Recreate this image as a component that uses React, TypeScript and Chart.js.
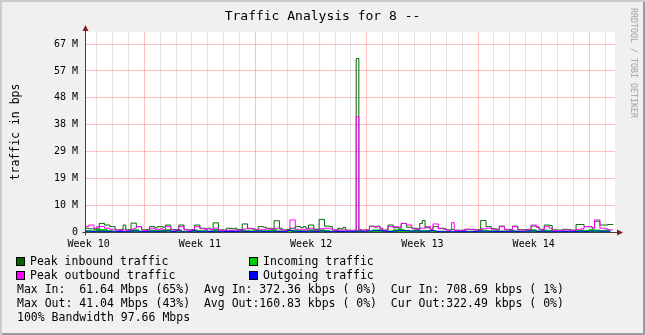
import React, { useEffect, useRef } from "react";
import { Chart, registerables } from "chart.js";

Chart.register(...registerables);

// ---- time axis (hours, week boundaries at multiples of 168) ----
const X_MIN_H = -88;
const X_MAX_H = 710.8;
const PEAK_START_H = -88;
const PEAK_STEP_H = 4;
const AVG_START_H = -88;
const AVG_STEP_H = 8;
const DAY_TICKS_H = [-72, -48, -24, 0, 24, 48, 72, 96, 120, 144, 168, 192, 216, 240, 264, 288, 312, 336, 360, 384, 408, 432, 456, 480, 504, 528, 552, 576, 600, 624, 648, 672, 696];
const WEEK_LABEL_POS_H = [-84, 84, 252, 420, 588];
const WEEK_LABELS = ["Week 10", "Week 11", "Week 12", "Week 13", "Week 14"];

// ---- value axis (units of 10^6 bps) ----
const Y_MAX = 74.5;
const Y_TICK_VALUES = [0, 10, 20, 30, 40, 50, 60, 70];
const Y_TICK_LABELS = ["0", "10 M", "19 M", "29 M", "38 M", "48 M", "57 M", "67 M"];

// ---- series (10^6 bps) ----
const PEAK_IN = [
  1.4, 1.4, 1.2, 1.2, 1.0, 1.2, 3.2, 3.2, 2.6, 2.6,
  2.0, 2.0, 0.8, 0.8, 0.9, 2.6, 0.8, 0.8, 3.3, 3.3,
  2.0, 2.0, 0.8, 0.8, 0.9, 2.0, 2.0, 1.6, 2.0, 2.0,
  1.8, 2.6, 2.6, 1.0, 0.9, 0.8, 2.6, 2.6, 1.0, 0.8,
  0.8, 0.9, 2.6, 2.6, 1.4, 1.4, 1.2, 1.4, 1.0, 3.4,
  3.4, 0.8, 0.8, 0.7, 1.4, 1.4, 1.2, 1.4, 0.9, 1.0,
  3.0, 3.0, 1.2, 1.2, 1.0, 0.8, 2.0, 2.0, 1.8, 1.4,
  1.4, 1.2, 4.2, 4.2, 1.4, 0.8, 0.8, 0.9, 1.4, 1.4,
  2.0, 2.0, 1.6, 2.0, 1.4, 2.6, 2.6, 1.0, 1.0, 4.7,
  4.7, 2.2, 2.2, 2.0, 0.8, 0.8, 1.4, 1.2, 1.7, 0.7,
  0.7, 0.6, 0.7, 64.6, 0.8, 0.7, 0.8, 0.7, 2.2, 2.2,
  1.8, 2.2, 1.4, 0.7, 0.7, 2.6, 2.6, 1.6, 1.6, 1.4,
  3.2, 3.2, 1.8, 1.8, 1.4, 1.4, 1.2, 3.2, 4.3, 1.6,
  1.6, 1.0, 2.0, 2.0, 1.4, 1.4, 1.2, 0.8, 0.8, 0.9,
  0.7, 0.7, 0.6, 0.7, 1.0, 1.0, 0.9, 1.0, 0.8, 0.8,
  4.3, 4.3, 2.0, 2.0, 1.2, 1.2, 1.0, 2.2, 2.2, 1.0,
  1.0, 0.9, 2.2, 2.2, 0.9, 0.9, 0.8, 0.9, 1.0, 2.2,
  2.2, 1.8, 1.0, 1.0, 2.6, 2.6, 2.4, 0.8, 0.8, 0.7,
  0.7, 1.0, 1.0, 0.9, 0.7, 0.7, 2.8, 2.8, 2.8, 2.0,
  2.0, 2.0, 1.6, 4.0, 4.0, 2.6, 2.6, 2.6, 2.8, 2.8,
];
const PEAK_OUT = [
  2.0, 2.0, 2.6, 2.6, 1.4, 2.0, 2.0, 2.0, 1.4, 1.4,
  1.0, 1.0, 0.6, 0.7, 0.6, 0.8, 0.6, 0.7, 1.0, 1.4,
  2.0, 2.0, 0.7, 0.6, 0.7, 1.4, 1.4, 1.0, 1.0, 1.2,
  1.0, 2.0, 2.0, 0.8, 0.7, 0.6, 2.0, 2.0, 0.8, 0.7,
  0.6, 0.7, 2.0, 2.0, 1.2, 1.2, 1.0, 1.2, 0.8, 1.4,
  1.4, 0.7, 0.6, 0.6, 0.6, 0.7, 0.6, 0.8, 0.6, 0.7,
  1.0, 1.2, 1.4, 1.4, 1.2, 0.7, 1.0, 1.0, 1.0, 1.2,
  1.0, 1.0, 1.4, 1.4, 1.0, 0.7, 0.6, 0.7, 4.5, 4.5,
  1.0, 1.0, 0.8, 1.0, 0.8, 1.4, 1.4, 0.8, 0.7, 1.2,
  1.2, 1.4, 1.4, 1.2, 0.7, 0.6, 0.8, 0.7, 0.8, 0.6,
  0.5, 0.5, 0.6, 43.0, 0.8, 0.6, 0.8, 0.7, 2.0, 2.0,
  2.0, 2.0, 1.2, 0.6, 0.7, 2.0, 2.0, 2.0, 2.0, 1.8,
  3.2, 3.2, 2.6, 2.6, 1.2, 1.2, 1.0, 1.4, 1.4, 2.0,
  2.0, 0.8, 3.0, 3.0, 1.2, 1.2, 1.0, 0.7, 0.6, 3.5,
  0.6, 0.5, 0.6, 0.5, 1.0, 1.0, 1.0, 0.8, 0.7, 0.6,
  1.2, 1.2, 1.4, 1.4, 1.0, 1.0, 0.8, 2.0, 2.0, 0.8,
  0.8, 0.7, 2.0, 2.0, 0.8, 0.7, 0.7, 0.8, 0.8, 2.6,
  2.6, 2.0, 0.8, 0.8, 2.0, 2.0, 1.4, 0.6, 0.6, 0.5,
  0.6, 0.8, 0.8, 0.7, 0.6, 0.5, 1.0, 1.0, 1.2, 2.0,
  2.0, 2.0, 1.4, 4.5, 4.5, 1.4, 1.4, 1.2, 0.8, 0.8,
];
const AVG_IN = [
  0.6, 0.5, 0.4, 1.0, 0.9, 0.6, 0.3, 0.5, 0.3, 0.9,
  0.8, 0.3, 0.5, 0.7, 0.6, 0.7, 0.9, 0.4, 0.8, 0.3,
  0.3, 0.8, 0.5, 0.5, 0.4, 0.9, 0.3, 0.5, 0.6, 0.4,
  0.7, 0.5, 0.4, 0.6, 0.5, 0.5, 1.0, 0.4, 0.3, 0.6,
  0.7, 0.6, 0.5, 0.8, 1.0, 0.8, 0.6, 0.3, 0.5, 0.4,
  0.3, 0.2, 0.6, 0.3, 0.3, 0.7, 0.8, 0.5, 0.4, 0.8,
  0.9, 0.6, 0.5, 0.9, 0.5, 0.6, 0.4, 0.3, 0.3, 0.2,
  0.2, 0.3, 0.4, 0.3, 0.3, 0.9, 0.6, 0.4, 0.6, 0.4,
  0.4, 0.6, 0.4, 0.3, 0.6, 0.8, 0.4, 0.7, 0.6, 0.3,
  0.3, 0.4, 0.3, 0.6, 0.7, 0.6, 0.9, 0.7, 0.6, 0.7,
];
const AVG_OUT = [
  0.4, 0.3, 0.2, 0.3, 0.3, 0.2, 0.1, 0.2, 0.1, 0.3,
  0.4, 0.1, 0.2, 0.3, 0.2, 0.3, 0.4, 0.2, 0.4, 0.1,
  0.1, 0.4, 0.2, 0.3, 0.2, 0.3, 0.1, 0.2, 0.2, 0.2,
  0.3, 0.2, 0.2, 0.3, 0.2, 0.2, 0.3, 0.2, 0.1, 0.6,
  0.3, 0.2, 0.2, 0.3, 0.2, 0.4, 0.3, 0.1, 0.2, 0.2,
  0.1, 0.1, 0.3, 0.1, 0.4, 0.5, 0.5, 0.3, 0.2, 0.4,
  0.6, 0.5, 0.3, 0.4, 0.3, 0.3, 0.5, 0.2, 0.1, 0.1,
  0.1, 0.1, 0.2, 0.1, 0.2, 0.3, 0.3, 0.2, 0.2, 0.2,
  0.2, 0.3, 0.2, 0.1, 0.3, 0.4, 0.2, 0.3, 0.3, 0.1,
  0.1, 0.2, 0.1, 0.2, 0.3, 0.2, 0.4, 0.4, 0.3, 0.3,
];

const TITLE = "Traffic Analysis for 8 --";
const Y_TITLE = "traffic in bps";
const WATERMARK = "RRDTOOL / TOBI OETIKER";
const LEGEND_ITEMS = [
  { label: "Peak inbound traffic", color: "#006600" },
  { label: "Incoming traffic", color: "#00cc00" },
  { label: "Peak outbound traffic", color: "#ff00ff" },
  { label: "Outgoing traffic", color: "#0000ff" },
];
const STAT_LINES = [
  "Max In:  61.64 Mbps (65%)  Avg In: 372.36 kbps ( 0%)  Cur In: 708.69 kbps ( 1%)",
  "Max Out: 41.04 Mbps (43%)  Avg Out:160.83 kbps ( 0%)  Cur Out:322.49 kbps ( 0%)",
  "100% Bandwidth 97.66 Mbps",
];

const MONO = "'DejaVu Sans Mono', monospace";

const toPoints = (arr: number[], start: number, step: number) =>
  arr.map((v, i) => ({ x: start + i * step, y: v }));

const decorPlugin = {
  id: "decor",
  beforeDraw(chart: any) {
    const { ctx, chartArea: a } = chart;
    ctx.save();
    ctx.fillStyle = "#ffffff";
    ctx.fillRect(a.left, a.top, a.right - a.left, a.bottom - a.top);
    ctx.restore();
  },
  afterDraw(chart: any) {
    const { ctx, chartArea: a } = chart;
    const x0 = Math.round(a.left) - 0.5;
    const y0 = Math.round(a.bottom) + 0.5;
    ctx.save();
    ctx.strokeStyle = "#404040";
    ctx.lineWidth = 1;
    ctx.beginPath();
    ctx.moveTo(x0, y0 + 3);
    ctx.lineTo(x0, a.top - 4);
    ctx.moveTo(x0 - 3, y0);
    ctx.lineTo(a.right + 3, y0);
    ctx.stroke();
    ctx.fillStyle = "#7f1f1f";
    ctx.beginPath();
    ctx.moveTo(x0, a.top - 7);
    ctx.lineTo(x0 - 3, a.top - 1);
    ctx.lineTo(x0 + 3, a.top - 1);
    ctx.closePath();
    ctx.fill();
    ctx.beginPath();
    ctx.moveTo(a.right + 8, y0);
    ctx.lineTo(a.right + 2, y0 - 3);
    ctx.lineTo(a.right + 2, y0 + 3);
    ctx.closePath();
    ctx.fill();
    ctx.restore();
  },
};

export default function App() {
  const canvasRef = useRef<HTMLCanvasElement | null>(null);

  useEffect(() => {
    document.body.style.margin = "0";
    const canvas = canvasRef.current;
    if (!canvas) return;
    const chart = new Chart(canvas, {
      type: "line",
      data: {
        datasets: [
          {
            label: "Outgoing traffic",
            data: toPoints(AVG_OUT, AVG_START_H, AVG_STEP_H),
            borderColor: "#0000ff",
            borderWidth: 1,
            pointRadius: 0,
            stepped: "after",
            fill: false,
            order: 0,
          },
          {
            label: "Peak outbound traffic",
            data: toPoints(PEAK_OUT, PEAK_START_H, PEAK_STEP_H),
            borderColor: "#ff00ff",
            borderWidth: 1,
            pointRadius: 0,
            stepped: "after",
            fill: false,
            order: 1,
          },
          {
            label: "Peak inbound traffic",
            data: toPoints(PEAK_IN, PEAK_START_H, PEAK_STEP_H),
            borderColor: "#006600",
            borderWidth: 1,
            pointRadius: 0,
            stepped: "after",
            fill: false,
            order: 2,
          },
          {
            label: "Incoming traffic",
            data: toPoints(AVG_IN, AVG_START_H, AVG_STEP_H),
            borderColor: "#00cc00",
            backgroundColor: "#00cc00",
            borderWidth: 1,
            pointRadius: 0,
            stepped: "after",
            fill: "origin",
            order: 3,
          },
        ],
      } as any,
      options: {
        animation: false,
        responsive: false,
        maintainAspectRatio: false,
        layout: { padding: { top: 32, right: 30, left: 0, bottom: 0 } },
        plugins: {
          legend: { display: false },
          tooltip: { enabled: false },
          title: { display: false },
        },
        scales: {
          x: {
            type: "linear",
            position: "bottom",
            min: X_MIN_H,
            max: X_MAX_H,
            afterBuildTicks: (s: any) => {
              s.ticks = DAY_TICKS_H.map((v) => ({ value: v }));
            },
            afterFit: (s: any) => {
              s.height = 0;
            },
            ticks: { display: false },
            border: { display: false },
            grid: {
              drawTicks: false,
              color: (c: any) =>
                c.tick && c.tick.value % 168 === 0
                  ? "rgba(255,0,0,0.24)"
                  : "rgba(102,102,102,0.17)",
            },
          },
          x2: {
            type: "linear",
            position: "bottom",
            min: X_MIN_H,
            max: X_MAX_H,
            afterBuildTicks: (s: any) => {
              s.ticks = WEEK_LABEL_POS_H.map((v) => ({ value: v }));
            },
            afterFit: (s: any) => {
              s.height = 103;
            },
            border: { display: false },
            grid: { display: false, drawTicks: false },
            ticks: {
              autoSkip: false,
              maxRotation: 0,
              padding: 6,
              color: "#000000",
              font: { family: MONO, size: 10 },
              callback: (v: any) => {
                const i = WEEK_LABEL_POS_H.indexOf(Number(v));
                return i >= 0 ? WEEK_LABELS[i] : "";
              },
            },
          },
          y: {
            type: "linear",
            min: 0,
            max: Y_MAX,
            afterBuildTicks: (s: any) => {
              s.ticks = Y_TICK_VALUES.map((v) => ({ value: v }));
            },
            afterFit: (s: any) => {
              s.width = 86;
            },
            border: { display: false },
            grid: { drawTicks: false, color: "rgba(255,0,0,0.24)" },
            ticks: {
              padding: 8,
              color: "#000000",
              font: { family: MONO, size: 10 },
              callback: (v: any) => {
                const i = Y_TICK_VALUES.indexOf(Number(v));
                return i >= 0 ? Y_TICK_LABELS[i] : "";
              },
            },
          },
        },
      } as any,
      plugins: [decorPlugin],
    });
    return () => chart.destroy();
  }, []);

  const txt: React.CSSProperties = {
    position: "absolute",
    fontFamily: MONO,
    fontSize: "11.5px",
    lineHeight: "14px",
    whiteSpace: "pre",
    color: "#000",
  };

  return (
    <div
      style={{
        position: "relative",
        width: 645,
        height: 335,
        background: "#f0f0f0",
        boxShadow: "inset 2px 2px 0 #cbcbcb, inset -2px -2px 0 #9a9a9a",
        overflow: "hidden",
      }}
    >
      <canvas
        ref={canvasRef}
        width={645}
        height={335}
        style={{ position: "absolute", left: 0, top: 0, width: 645, height: 335 }}
      />
      <div
        style={{
          position: "absolute",
          left: 0,
          top: 8,
          width: 645,
          textAlign: "center",
          fontFamily: MONO,
          fontSize: "13px",
          lineHeight: "16px",
          color: "#000",
          whiteSpace: "pre",
        }}
      >
        {TITLE}
      </div>
      <div
        style={{
          position: "absolute",
          left: 15,
          top: 132,
          transform: "translate(-50%, -50%) rotate(-90deg)",
          fontFamily: MONO,
          fontSize: "11.5px",
          lineHeight: "14px",
          whiteSpace: "pre",
          color: "#000",
        }}
      >
        {Y_TITLE}
      </div>
      <div
        style={{
          position: "absolute",
          left: 634,
          top: 63,
          transform: "translate(-50%, -50%) rotate(90deg)",
          fontFamily: MONO,
          fontSize: "8.3px",
          lineHeight: "10px",
          whiteSpace: "pre",
          color: "#a0a0a0",
        }}
      >
        {WATERMARK}
      </div>
      {LEGEND_ITEMS.map((it, i) => {
        const col = i % 2;
        const row = Math.floor(i / 2);
        const bx = col === 0 ? 16 : 249;
        const tx = col === 0 ? 30 : 263;
        const top = 254 + row * 14;
        return (
          <React.Fragment key={it.label}>
            <div
              style={{
                position: "absolute",
                left: bx,
                top: top + 3,
                width: 7,
                height: 7,
                background: it.color,
                border: "1px solid #000",
              }}
            />
            <div style={{ ...txt, left: tx, top }}>{it.label}</div>
          </React.Fragment>
        );
      })}
      {STAT_LINES.map((l, i) => (
        <div key={i} style={{ ...txt, left: 17, top: 282 + i * 14 }}>
          {l}
        </div>
      ))}
    </div>
  );
}
